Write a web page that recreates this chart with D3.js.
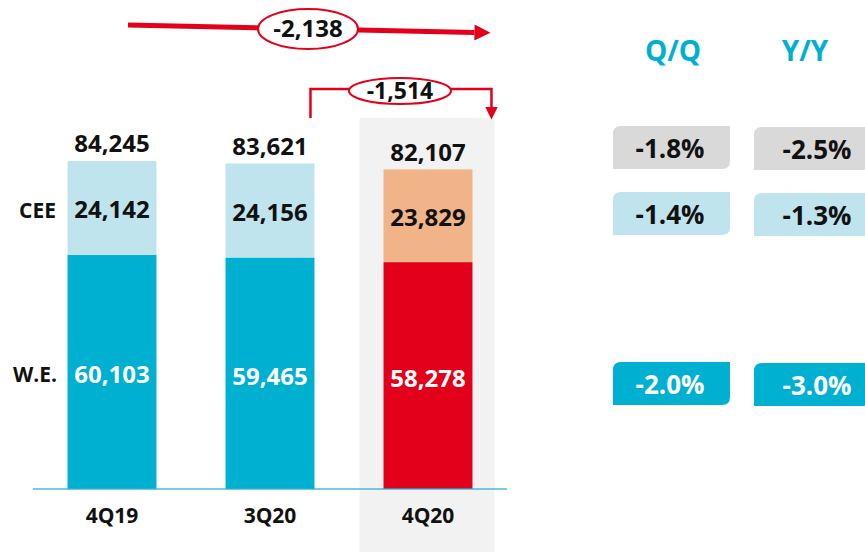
<!DOCTYPE html>
<html>
<head>
<meta charset="utf-8">
<script src="https://cdn.jsdelivr.net/npm/d3@7"></script>
<style>
  body { margin: 0; background: #fff; }
  text { font-family: "Open Sans", "Noto Sans", sans-serif; font-weight: 700; }
</style>
</head>
<body>
<div id="chart"></div>
<script>
var categories = ["4Q19", "3Q20", "4Q20"];
var weValues = [60103, 59465, 58278];
var ceeValues = [24142, 24156, 23829];
var totals = [84245, 83621, 82107];
var rowLabels = ["CEE", "W.E."];
var qqLabels = ["-1.8%", "-1.4%", "-2.0%"];
var yyLabels = ["-2.5%", "-1.3%", "-3.0%"];
var deltaYear = "-2,138";
var deltaQuarter = "-1,514";

var width = 865, height = 552;
var baseY = 489;

var svg = d3.select("#chart").append("svg")
    .attr("width", width)
    .attr("height", height);

var x = d3.scaleBand()
    .domain(categories)
    .range([33, 507])
    .paddingInner(0.437)
    .paddingOuter(0.2185);

var y = d3.scaleLinear()
    .domain([0, 90000])
    .range([baseY, baseY - 90000 * 0.003893]);

var bw = x.bandwidth();

// highlight column for current quarter
svg.append("rect")
    .attr("x", x("4Q20") - 24)
    .attr("y", 118)
    .attr("width", bw + 46)
    .attr("height", height - 118)
    .attr("fill", "#f2f2f2");

var weColor = function(i) { return i == 2 ? "#e2001a" : "#00b0d1"; };
var ceeColor = function(i) { return i == 2 ? "#f0b488" : "#c0e4ee"; };

// W.E. bars
svg.selectAll(".we")
    .data(weValues)
    .enter().append("rect")
    .attr("class", "we")
    .attr("x", function(d, i) { return x(categories[i]); })
    .attr("width", bw)
    .attr("y", function(d) { return y(d); })
    .attr("height", function(d) { return baseY - y(d); })
    .attr("fill", function(d, i) { return weColor(i); });

// CEE bars stacked on top
svg.selectAll(".cee")
    .data(ceeValues)
    .enter().append("rect")
    .attr("class", "cee")
    .attr("x", function(d, i) { return x(categories[i]); })
    .attr("width", bw)
    .attr("y", function(d, i) { return y(weValues[i] + d); })
    .attr("height", function(d, i) { return y(weValues[i]) - y(weValues[i] + d); })
    .attr("fill", function(d, i) { return ceeColor(i); });

// axis line
svg.append("line")
    .attr("x1", 33).attr("x2", 507)
    .attr("y1", baseY).attr("y2", baseY)
    .attr("stroke", "#29b2d3")
    .attr("stroke-opacity", 0.65)
    .attr("stroke-width", 2);

var fmt = d3.format(",");

// value labels
svg.selectAll(".weLabel")
    .data(weValues)
    .enter().append("text")
    .attr("x", function(d, i) { return x(categories[i]) + bw / 2; })
    .attr("y", function(d) { return (y(d) + baseY) / 2 + 3; })
    .attr("dy", ".35em")
    .attr("text-anchor", "middle")
    .attr("font-size", 24)
    .attr("fill", "#fff")
    .text(function(d) { return fmt(d); });

svg.selectAll(".ceeLabel")
    .data(ceeValues)
    .enter().append("text")
    .attr("x", function(d, i) { return x(categories[i]) + bw / 2; })
    .attr("y", function(d, i) { return (y(weValues[i]) + y(weValues[i] + d)) / 2 + 2; })
    .attr("dy", ".35em")
    .attr("text-anchor", "middle")
    .attr("font-size", 24)
    .attr("fill", "#111")
    .text(function(d) { return fmt(d); });

svg.selectAll(".totLabel")
    .data(totals)
    .enter().append("text")
    .attr("x", function(d, i) { return x(categories[i]) + bw / 2; })
    .attr("y", function(d) { return y(d) - 17; })
    .attr("dy", ".35em")
    .attr("text-anchor", "middle")
    .attr("font-size", 24)
    .attr("fill", "#111")
    .text(function(d) { return fmt(d); });

// category labels
svg.selectAll(".catLabel")
    .data(categories)
    .enter().append("text")
    .attr("x", function(d) { return x(d) + bw / 2; })
    .attr("y", 516)
    .attr("dy", ".35em")
    .attr("text-anchor", "middle")
    .attr("font-size", 21)
    .attr("fill", "#111")
    .text(function(d) { return d; });

// row labels
svg.append("text")
    .attr("x", 56).attr("y", 211)
    .attr("dy", ".35em").attr("text-anchor", "end")
    .attr("font-size", 21).attr("fill", "#111")
    .text(rowLabels[0]);
svg.append("text")
    .attr("x", 57).attr("y", 375)
    .attr("dy", ".35em").attr("text-anchor", "end")
    .attr("font-size", 21).attr("fill", "#111")
    .text(rowLabels[1]);

// arrows
var red = "#e2001a";
var defs = svg.append("defs");
defs.append("marker")
    .attr("id", "head")
    .attr("viewBox", "0 0 10 10")
    .attr("refX", 0).attr("refY", 5)
    .attr("markerWidth", 3.4).attr("markerHeight", 3.2)
    .attr("markerUnits", "strokeWidth")
    .attr("orient", "auto")
    .append("path").attr("d", "M0,0 L10,5 L0,10 Z").attr("fill", red);
defs.append("marker")
    .attr("id", "head2")
    .attr("viewBox", "0 0 10 10")
    .attr("refX", 0).attr("refY", 5)
    .attr("markerWidth", 5).attr("markerHeight", 5)
    .attr("markerUnits", "strokeWidth")
    .attr("orient", "auto")
    .append("path").attr("d", "M0,0 L10,5 L0,10 Z").attr("fill", red);

var arrowEnd = x("4Q20") + bw + 19;

svg.append("line")
    .attr("x1", 128).attr("y1", 25)
    .attr("x2", arrowEnd - 17).attr("y2", 32.5)
    .attr("stroke", red).attr("stroke-width", 5)
    .attr("marker-end", "url(#head)");

svg.append("ellipse")
    .attr("cx", 308).attr("cy", 29)
    .attr("rx", 50).attr("ry", 20)
    .attr("fill", "#fff").attr("stroke", red).attr("stroke-width", 2);
svg.append("text")
    .attr("x", 308).attr("y", 29).attr("dy", ".35em")
    .attr("text-anchor", "middle").attr("font-size", 24).attr("fill", "#111")
    .text(deltaYear);

var bx1 = x("3Q20") + bw - 4;
svg.append("path")
    .attr("d", "M" + bx1 + ",118 L" + bx1 + ",89 L" + arrowEnd + ",89 L" + arrowEnd + ",107")
    .attr("fill", "none").attr("stroke", red).attr("stroke-width", 2.5)
    .attr("marker-end", "url(#head2)");

svg.append("ellipse")
    .attr("cx", 400).attr("cy", 91)
    .attr("rx", 51).attr("ry", 13)
    .attr("fill", "#fff").attr("stroke", red).attr("stroke-width", 2);
svg.append("text")
    .attr("x", 400).attr("y", 91).attr("dy", ".35em")
    .attr("text-anchor", "middle").attr("font-size", 23).attr("fill", "#111")
    .text(deltaQuarter);

// right panel: growth boxes
var headerColor = "#00b0d1";
svg.append("text").attr("x", 673).attr("y", 51).attr("dy", ".35em")
    .attr("text-anchor", "middle").attr("font-size", 28).attr("fill", headerColor).text("Q/Q");
svg.append("text").attr("x", 805).attr("y", 51).attr("dy", ".35em")
    .attr("text-anchor", "middle").attr("font-size", 28).attr("fill", headerColor).text("Y/Y");

var boxRows = [
  { top: 126, fill: "#d9d9d9", color: "#111" },
  { top: 192, fill: "#c0e4ee", color: "#111" },
  { top: 362, fill: "#00b0d1", color: "#fff" }
];

function boxPath(x0, y0, w, h, r) {
  // rounded top-left and bottom-right corners
  return "M" + (x0 + r) + "," + y0 +
    " L" + (x0 + w) + "," + y0 +
    " L" + (x0 + w) + "," + (y0 + h - r) +
    " Q" + (x0 + w) + "," + (y0 + h) + " " + (x0 + w - r) + "," + (y0 + h) +
    " L" + x0 + "," + (y0 + h) +
    " L" + x0 + "," + (y0 + r) +
    " Q" + x0 + "," + y0 + " " + (x0 + r) + "," + y0 + " Z";
}

boxRows.forEach(function(row, i) {
  svg.append("path")
      .attr("d", boxPath(613, row.top, 117, 43, 8))
      .attr("fill", row.fill);
  svg.append("path")
      .attr("d", boxPath(754, row.top + 1, 117, 43, 8))
      .attr("fill", row.fill);
  svg.append("text")
      .attr("x", 670).attr("y", row.top + 23).attr("dy", ".35em")
      .attr("text-anchor", "middle").attr("font-size", 26).attr("fill", row.color)
      .text(qqLabels[i]);
  svg.append("text")
      .attr("x", 817).attr("y", row.top + 24).attr("dy", ".35em")
      .attr("text-anchor", "middle").attr("font-size", 26).attr("fill", row.color)
      .text(yyLabels[i]);
});
</script>
</body>
</html>
